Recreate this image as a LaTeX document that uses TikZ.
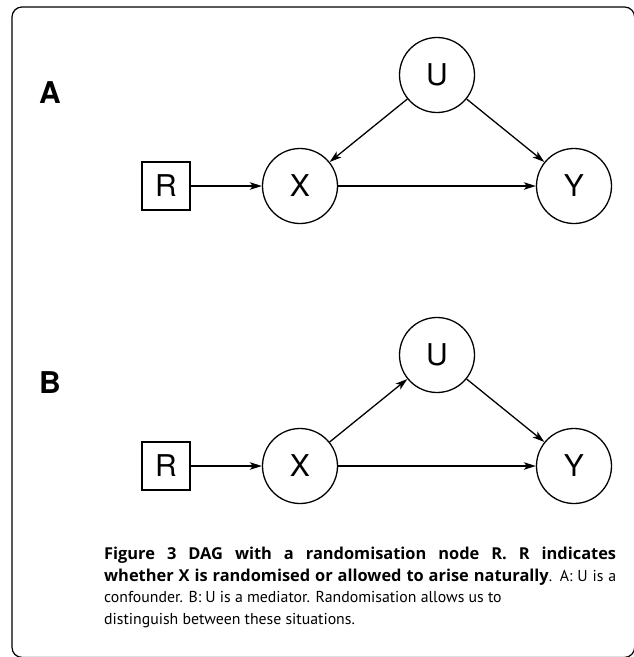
\documentclass[tikz,border=0pt]{standalone}
\usepackage{fontspec}
\setmainfont{PT Sans}[BoldFont={Open Sans Bold}]
\newfontfamily\helv{TeX Gyre Heros}
\usetikzlibrary{arrows.meta}
\begin{document}
\begin{tikzpicture}[x=1pt,y=-1pt,
  var/.style={circle,draw,line width=1.3pt,minimum size=75pt,inner sep=0pt,
    font=\helv\fontsize{30}{30}\selectfont},
  rbox/.style={rectangle,draw,line width=1.3pt,minimum size=48pt,inner sep=0pt,
    font=\helv\fontsize{30}{30}\selectfont},
  edge/.style={line width=1.3pt,-{Stealth[length=12pt,width=7.5pt,inset=3pt]}},
  panel/.style={font=\helv\bfseries\fontsize{30}{30}\selectfont},
  frame/.style={line width=1.2pt,rounded corners=10pt},
  caption/.style={anchor=north west,inner sep=0pt,text width=512pt,align=justify,
    font=\fontsize{15.8}{21.6}\selectfont}]
\useasboundingbox (0,0) rectangle (634,657);
\draw[frame] (12,7) rectangle (634.6,657.4);
% Panel A
\node[panel] (la) at (50,93) {A};
\node[var] (ua) at (437,75) {U};
\node[var] (xa) at (300,186) {X};
\node[var] (ya) at (574,186) {Y};
\node[rbox] (ra) at (166,186) {R};
\draw[edge] (ra) -- (xa);
\draw[edge] (xa) -- (ya);
\draw[edge] (ua) -- (xa);
\draw[edge] (ua) -- (ya);
% Panel B
\node[panel] (lb) at (50,383) {B};
\node[var] (ub) at (437,355) {U};
\node[var] (xb) at (300,466) {X};
\node[var] (yb) at (574,466) {Y};
\node[rbox] (rb) at (166,466) {R};
\draw[edge] (rb) -- (xb);
\draw[edge] (xb) -- (yb);
\draw[edge] (xb) -- (ub);
\draw[edge] (ub) -- (yb);
% Caption
\node[caption] (cap) at (104,547) {{\fontsize{16.4}{21.6}\selectfont\textbf{Figure 3 DAG with a randomisation node R. R indicates}}\linebreak
{\fontsize{16.4}{21.6}\selectfont\textbf{whether X is randomised or allowed to arise naturally}}. A: U is a\linebreak
confounder. B: U is a mediator. Randomisation allows us to\\
distinguish between these situations.};
\end{tikzpicture}
\end{document}
